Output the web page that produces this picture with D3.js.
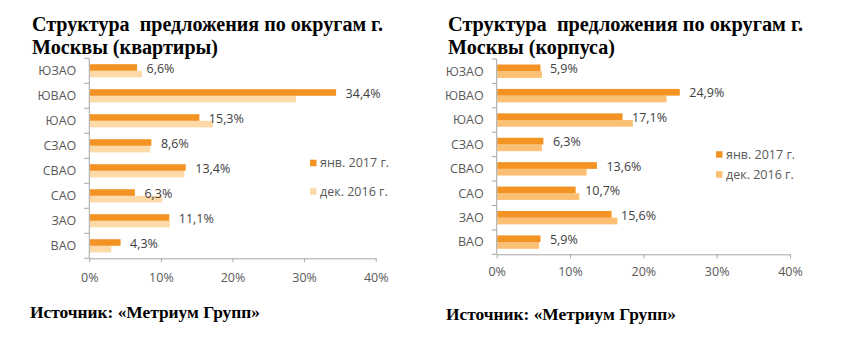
<!DOCTYPE html>
<html><head><meta charset="utf-8">
<script src="https://cdn.jsdelivr.net/npm/d3@7"></script>
<style>
html,body{margin:0;padding:0;background:#fff;}
svg{display:block;}
</style></head>
<body>
<svg id="chart" width="847" height="337"></svg>
<script>
// ---- data ----
const categories = ["ЮЗАО","ЮВАО","ЮАО","СЗАО","СВАО","САО","ЗАО","ВАО"];
const seriesNames = ["янв. 2017 г.","дек. 2016 г."];
const flatsJan2017 = [6.6,34.4,15.3,8.6,13.4,6.3,11.1,4.3];
const flatsDec2016 = [7.3,28.8,17.2,8.4,13.2,10.1,11.2,3.0];
const bldgJan2017 = [5.9,24.9,17.1,6.3,13.6,10.7,15.6,5.9];
const bldgDec2016 = [6.1,23.1,18.5,6.1,12.2,11.2,16.4,5.7];
const xTicks = [0,10,20,30,40];
const titlesLeft = ["Структура  предложения по округам г.","Москвы (квартиры)"];
const titlesRight = ["Структура  предложения по округам г.","Москвы (корпуса)"];
const sourceText = "Источник: «Метриум Групп»";

const svg = d3.select("#chart");
const darkColor = "#F39323";
const axisColor = "#A6A6A6";
const textColor = "#595959";
const sansFont = "'Open Sans', 'Noto Sans', sans-serif";
const serifFont = "'Liberation Serif', 'Times New Roman', serif";

function panel(cfg){
  const g = svg.append("g");
  // titles
  cfg.titles.forEach((t,i)=>{
    g.append("text").attr("x",cfg.titleX).attr("y",cfg.titleY[i])
      .attr("font-family",serifFont).attr("font-weight","bold").attr("font-size",20.5)
      .attr("fill","#000").attr("textLength",cfg.titleW[i]).attr("lengthAdjust","spacingAndGlyphs")
      .style("white-space","pre").text(t);
  });
  // source
  g.append("text").attr("x",cfg.titleX - 2).attr("y",cfg.srcY)
    .attr("font-family",serifFont).attr("font-weight","bold").attr("font-size",17)
    .attr("fill","#000").attr("textLength",230).attr("lengthAdjust","spacingAndGlyphs")
    .text(sourceText);

  const x = d3.scaleLinear().domain([0,40]).range([cfg.x0,cfg.x1]);
  const y = d3.scaleBand().domain(categories).range([cfg.yTop,cfg.yBottom]).padding(0);
  const yInner = d3.scaleBand().domain(seriesNames).range([-cfg.barH, cfg.barH]);
  const colors = [darkColor, cfg.lightColor];
  const seriesVals = [cfg.jan, cfg.dec];

  // bars
  [1,0].forEach(si=>{
    g.append("g").selectAll("rect").data(categories).join("rect")
      .attr("x",x(0)+0.5)
      .attr("y",(d)=>y(d)+y.bandwidth()/2+yInner(seriesNames[si]))
      .attr("width",(d,i)=>x(seriesVals[si][i])-x(0))
      .attr("height",yInner.bandwidth())
      .attr("fill",colors[si]);
  });

  // data labels (janv series)
  g.append("g").selectAll("text").data(categories).join("text")
    .attr("x",(d,i)=>x(cfg.jan[i])+10)
    .attr("y",(d)=>y(d)+y.bandwidth()/2-2.5)
    .attr("dy","0.35em")
    .attr("font-family",sansFont).attr("font-size",12.5).attr("fill","#404040")
    .text((d,i)=>d3.format(".1f")(cfg.jan[i]).replace(".",",") + "%");

  // vertical axis
  g.append("line").attr("x1",cfg.x0).attr("x2",cfg.x0).attr("y1",cfg.yTop).attr("y2",cfg.yBottom)
    .attr("stroke",axisColor);
  const bounds = d3.range(categories.length+1).map(i=>cfg.yTop + i*y.step());
  g.append("g").selectAll("line").data(bounds).join("line")
    .attr("x1",cfg.x0-5).attr("x2",cfg.x0).attr("y1",d=>d).attr("y2",d=>d)
    .attr("stroke",axisColor);
  // category labels
  g.append("g").selectAll("text").data(categories).join("text")
    .attr("x",cfg.x0-13).attr("y",d=>y(d)+y.bandwidth()/2)
    .attr("dy","0.35em").attr("text-anchor","end")
    .attr("font-family",sansFont).attr("font-size",12.5).attr("fill",textColor)
    .text(d=>d);

  // horizontal axis
  const xa = d3.axisBottom(x).tickValues(xTicks).tickSize(4).tickSizeOuter(0)
    .tickFormat(d=>d+"%");
  const axG = g.append("g").attr("transform",`translate(0,${cfg.yBottom})`).call(xa);
  axG.select(".domain").attr("stroke",axisColor);
  axG.selectAll(".tick line").attr("stroke",axisColor);
  axG.selectAll(".tick text").attr("font-family",sansFont).attr("font-size",12.5)
    .attr("fill",textColor).attr("y",cfg.tickLabelY - cfg.yBottom).attr("dy","0.35em");

  // legend
  const lg = g.append("g");
  seriesNames.forEach((s,i)=>{
    lg.append("rect").attr("x",cfg.legX).attr("y",cfg.legY[i]-3.3).attr("width",6.5).attr("height",6.5)
      .attr("fill",colors[i]);
    lg.append("text").attr("x",cfg.legX+10).attr("y",cfg.legY[i]).attr("dy","0.35em")
      .attr("font-family",sansFont).attr("font-size",12.5).attr("fill",textColor).text(s);
  });
}

panel({
  titles:titlesLeft, titleX:32, titleY:[30.5,53.5], titleW:[351,186], srcY:318,
  x0:89.3, x1:375.7, yTop:58.3, yBottom:258.3, tickLabelY:278, barH:6.6,
  jan:flatsJan2017, dec:flatsDec2016, lightColor:"#FDDAA8",
  legX:310, legY:[163,191.5]
});
panel({
  titles:titlesRight, titleX:448, titleY:[30.5,53.5], titleW:[355,167], srcY:320,
  x0:496.7, x1:790, yTop:59, yBottom:254.3, tickLabelY:271.7, barH:6.7,
  jan:bldgJan2017, dec:bldgDec2016, lightColor:"#FBC074",
  legX:716, legY:[154.5,174.5]
});
</script>
</body></html>
